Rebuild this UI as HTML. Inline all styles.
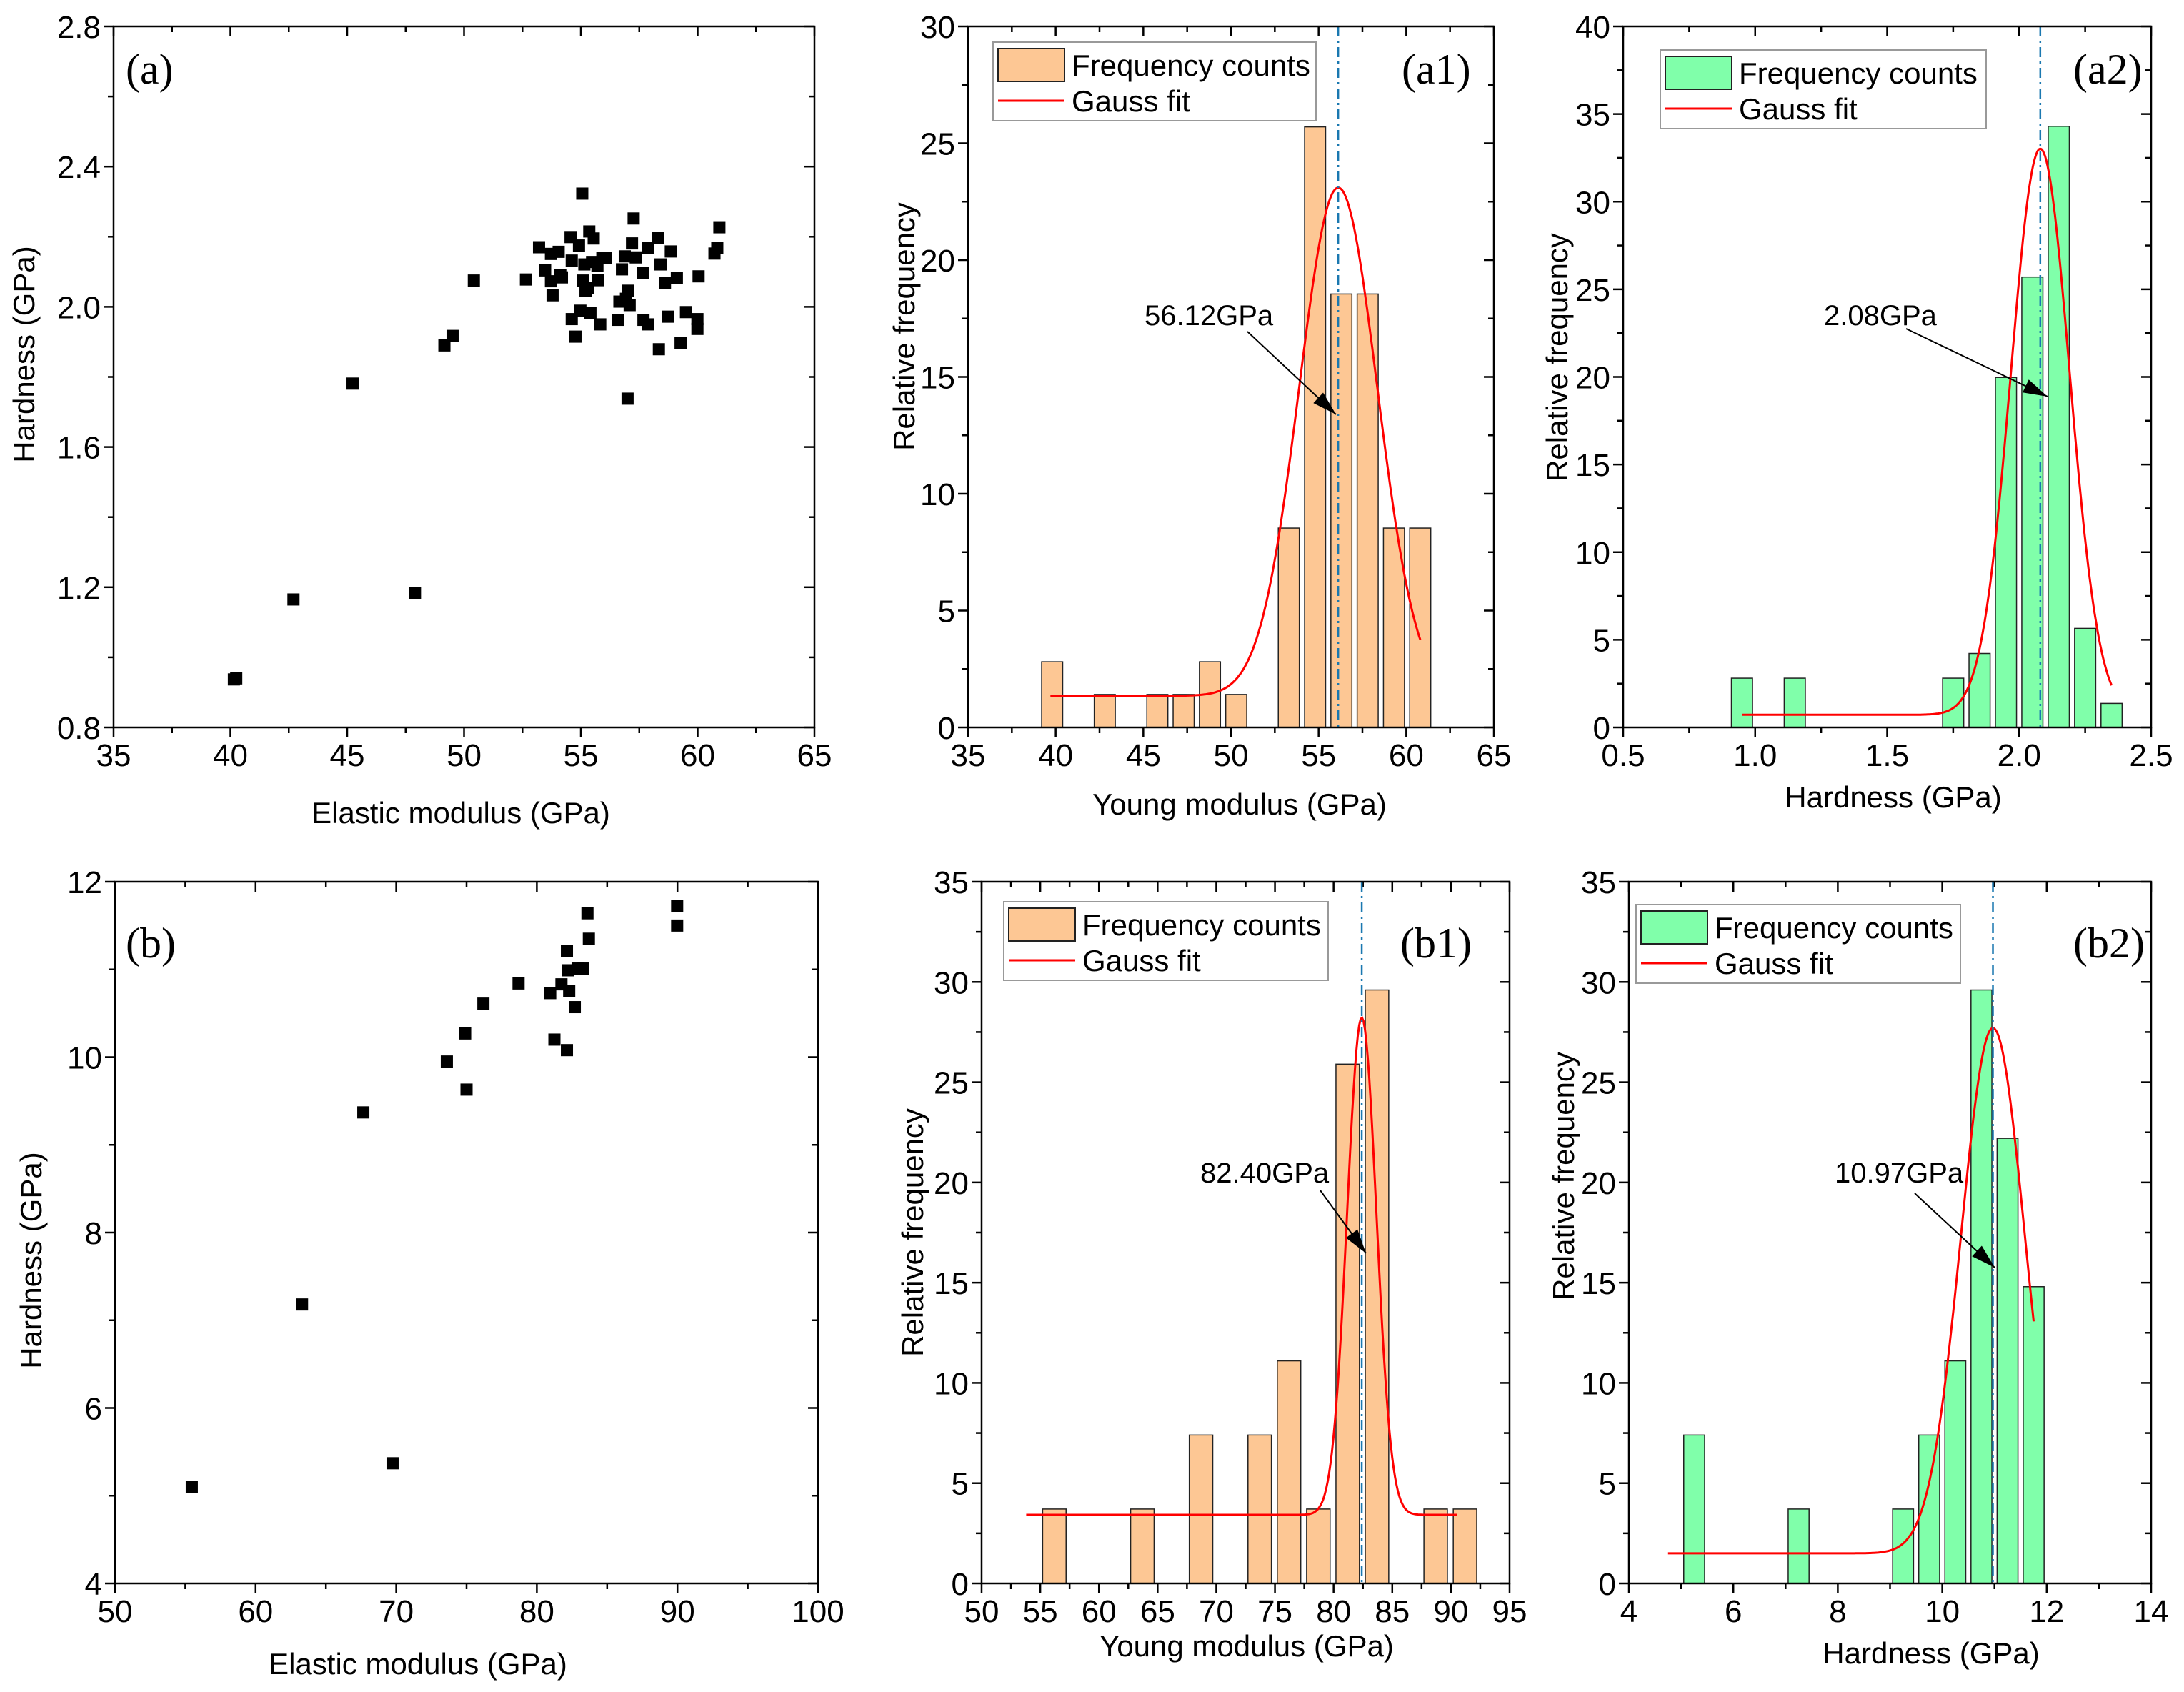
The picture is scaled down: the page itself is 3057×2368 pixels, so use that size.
<!DOCTYPE html>
<html><head><meta charset="utf-8"><style>
html,body{margin:0;padding:0;background:#fff}
svg{display:block}
text{font-family:"Liberation Sans",Arial,sans-serif;fill:#000}
.ser{font-family:"Liberation Serif","Times New Roman",serif}
</style></head><body>
<svg id="fig" width="3057" height="2368" viewBox="0 0 3057 2368" xmlns="http://www.w3.org/2000/svg"></svg>
<script>
// ---------- data ----------
const aE=[40.15,40.25,42.70,45.23,47.9,49.16,49.51,50.42,52.65,53.21,53.47,53.72,53.72,53.79,54.05,54.12,54.19,54.56,54.61,54.61,54.77,54.92,54.98,55.06,55.10,55.15,55.20,55.31,55.36,55.41,55.48,55.55,55.71,55.74,55.83,55.92,56.08,56.60,56.65,56.76,56.88,56.93,57.0,57.02,57.09,57.19,57.26,57.35,57.66,57.68,57.89,57.89,58.29,58.34,58.41,58.60,58.73,58.85,59.11,59.27,59.50,59.99,59.99,60.04,60.72,60.84,60.93];
const aH=[0.937,0.94,1.165,1.781,1.184,1.89,1.917,2.075,2.078,2.170,2.104,2.151,2.073,2.033,2.157,2.090,2.084,2.199,2.132,1.965,1.915,2.175,1.989,2.323,2.075,2.121,2.046,2.054,2.215,1.983,2.128,2.195,2.118,2.076,1.950,2.140,2.139,1.963,2.015,2.107,2.144,2.023,1.738,2.046,2.005,2.181,2.252,2.141,2.096,1.963,1.950,2.168,2.197,1.879,2.121,2.069,1.972,2.158,2.082,1.896,1.985,1.965,1.937,2.087,2.152,2.168,2.227];
const bE=[55.46,63.3,67.66,69.74,73.6,74.9,75.0,76.2,78.7,80.95,81.25,81.75,82.14,82.14,82.3,82.2,82.7,82.9,83.3,83.6,83.7,89.98,89.98];
const bH=[5.10,7.18,9.37,5.37,9.95,10.27,9.63,10.61,10.84,10.73,10.20,10.83,11.21,10.08,10.75,10.99,10.57,11.01,11.01,11.64,11.35,11.72,11.50];
const a1Centers=[39.8,42.8,45.8,47.3,48.8,50.3,53.3,54.8,56.3,57.8,59.3,60.8];
const a1Freq=[2.81,1.41,1.41,1.41,2.81,1.41,8.53,25.7,18.55,18.55,8.53,8.53];
const a1Fit=[1.35,21.75,56.12,2.23]; // y0, A, xc, w
const a1Range=[39.7,60.8];
const a2Centers=[0.95,1.15,1.75,1.85,1.95,2.05,2.15,2.25,2.35];
const a2Freq=[2.81,2.81,2.81,4.22,19.97,25.7,34.3,5.65,1.37];
const a2Fit=[0.72,32.3,2.08,0.111];
const a2Range=[0.95,2.35];
const b1Centers=[56.2,63.7,68.7,73.7,76.2,78.7,81.2,83.7,88.7,91.2];
const b1Freq=[3.71,3.71,7.4,7.4,11.1,3.71,25.9,29.6,3.71,3.71];
const b1Fit=[3.42,24.8,82.4,1.25];
const b1Range=[53.8,90.5];
const b2Centers=[5.25,7.25,9.25,9.75,10.25,10.75,11.25,11.75];
const b2Freq=[7.4,3.71,3.71,7.4,11.1,29.6,22.2,14.8];
const b2Fit=[1.5,26.2,10.97,0.61];
const b2Range=[4.75,11.75];
const a1Peak=["56.12GPa"],a2Peak=["2.08GPa"],b1Peak=["82.40GPa"],b2Peak=["10.97GPa"];

// ---------- helpers ----------
const NS="http://www.w3.org/2000/svg";
const svg=document.getElementById('fig');
function mk(tag,attrs,parent,txt){const e=document.createElementNS(NS,tag);for(const k in attrs)e.setAttribute(k,attrs[k]);if(txt!==undefined)e.textContent=txt;(parent||svg).appendChild(e);return e;}
function fmt(v,d){return v.toFixed(d);}

function panel(cfg){
  const g=mk('g',{});
  
  
  const L=cfg.box[0],T=cfg.box[1],R=cfg.box[2],B=cfg.box[3];
  const sx=v=>L+(v-cfg.x[0])/(cfg.x[1]-cfg.x[0])*(R-L);
  const sy=v=>B-(v-cfg.y[0])/(cfg.y[1]-cfg.y[0])*(B-T);
  cfg.sx=sx;cfg.sy=sy;cfg.g=g;
  const tg=mk('g',{stroke:'#000','stroke-width':2.5},g);
  
  const xl=mk('g',{},g);
  const yl=mk('g',{},g);
  const nx=Math.round((cfg.x[1]-cfg.x[0])/cfg.xs*2);
  for(let i=0;i<=nx;i++){const v=cfg.x[0]+i*cfg.xs/2,X=sx(v),maj=i%2==0,len=maj?14:8;
    mk('line',{x1:X,y1:B,x2:X,y2:B+len},tg);mk('line',{x1:X,y1:T,x2:X,y2:T+len},tg);
    if(maj){mk('text',{x:X,y:B+54,'font-size':44,'text-anchor':'middle'},xl,fmt(v,cfg.xd));}}
  const ny=Math.round((cfg.y[1]-cfg.y[0])/cfg.ys*2);
  for(let i=0;i<=ny;i++){const v=cfg.y[0]+i*cfg.ys/2,Y=sy(v),maj=i%2==0,len=maj?14:8;
    mk('line',{x1:L-len,y1:Y,x2:L,y2:Y},tg);mk('line',{x1:R-len,y1:Y,x2:R,y2:Y},tg);
    if(maj){mk('text',{x:L-18,y:Y+16,'font-size':44,'text-anchor':'end'},yl,fmt(v,cfg.yd));}}
  const xt=mk('text',{x:cfg.xt[0],y:cfg.xt[1],'font-size':42,'text-anchor':'middle'},g,cfg.xtitle);
  
  const yt=mk('text',{x:0,y:0,'font-size':42,'text-anchor':'middle',transform:`translate(${cfg.yt[0]},${cfg.yt[1]}) rotate(-90)`},g,cfg.ytitle);
  
  const pl=mk('text',{x:cfg.lab[0],y:cfg.lab[1],'font-size':60,'class':'ser'},g,cfg.label);
  
  return g;
}
function frame(cfg){const f=mk('rect',{x:cfg.box[0],y:cfg.box[1],width:cfg.box[2]-cfg.box[0],height:cfg.box[3]-cfg.box[1],fill:'none',stroke:'#000','stroke-width':2.5},cfg.g);
  }

function scatter(cfg,xs,ys){
  panel(cfg);
  const pg=mk('g',{fill:'#000'},cfg.g);
  for(let i=0;i<xs.length;i++){const r=mk('rect',{x:cfg.sx(xs[i])-8.5,y:cfg.sy(ys[i])-8.5,width:17,height:17},pg);
    }
  frame(cfg);
}
function hist(cfg,centers,freq,bw,fit,range,color,peak){
  panel(cfg);
  const bg=mk('g',{},cfg.g);
  for(let i=0;i<centers.length;i++){const x0=cfg.sx(centers[i]-bw/2),x1=cfg.sx(centers[i]+bw/2),y=cfg.sy(freq[i]);
    const r=mk('rect',{x:x0,y:y,width:x1-x0,height:cfg.sy(0)-y,fill:color,stroke:'#222','stroke-width':1.5},bg);
    }
  let d='';for(let k=0;k<=300;k++){const x=range[0]+(range[1]-range[0])*k/300;const y=fit[0]+fit[1]*Math.exp(-Math.pow(x-fit[2],2)/(2*fit[3]*fit[3]));
    d+=(k?'L':'M')+cfg.sx(x).toFixed(1)+','+cfg.sy(y).toFixed(1);}
  const p=mk('path',{d:d,fill:'none',stroke:'#f00','stroke-width':3},cfg.g);
  
  const vx=cfg.sx(fit[2]);
  const vl=mk('line',{x1:vx,y1:cfg.box[1],x2:vx,y2:cfg.box[3],stroke:'#1a78b0','stroke-width':2.5,'stroke-dasharray':'14,6,3,6'},cfg.g);
  
  const at=mk('text',{x:cfg.ann[0],y:cfg.ann[1],'font-size':40},cfg.g,peak[0]);
  
  const [ax1,ay1,ax2,ay2]=cfg.arrow;
  const ar=mk('line',{x1:ax1,y1:ay1,x2:ax2,y2:ay2,stroke:'#000','stroke-width':2},cfg.g);
  
  const ang=Math.atan2(ay2-ay1,ax2-ax1),hl=34,hw=10;
  const bx=ax2-hl*Math.cos(ang),by=ay2-hl*Math.sin(ang);
  const ah=mk('polygon',{points:`${ax2},${ay2} ${bx-hw*Math.sin(ang)},${by+hw*Math.cos(ang)} ${bx+hw*Math.sin(ang)},${by-hw*Math.cos(ang)}`,fill:'#000'},cfg.g);
  
  const [lx,ly,lw,lh]=cfg.leg;
  const lg=mk('g',{},cfg.g);
  mk('rect',{x:lx,y:ly,width:lw,height:lh,fill:'#fff',stroke:'#999','stroke-width':2},lg);
  const e1=mk('g',{},lg);
  mk('rect',{x:lx+7,y:ly+9,width:93,height:46,fill:color,stroke:'#222','stroke-width':2},e1);
  mk('text',{x:lx+110,y:ly+47,'font-size':42},e1,'Frequency counts');
  const e2=mk('g',{},lg);
  mk('line',{x1:lx+7,y1:ly+82,x2:lx+100,y2:ly+82,stroke:'#f00','stroke-width':3},e2);
  mk('text',{x:lx+110,y:ly+97,'font-size':42},e2,'Gauss fit');
  frame(cfg);
}

// ---------- panels ----------
scatter({name:'panel-a-scatter',box:[159,37,1140,1018],x:[35,65],xs:5,xd:0,y:[0.8,2.8],ys:0.4,yd:1,
  xtitle:'Elastic modulus (GPa)',ytitle:'Hardness (GPa)',xt:[645,1152],yt:[48,496],label:'(a)',lab:[176,117]},aE,aH);
hist({name:'panel-a1-histogram',box:[1355,37,2091,1018],x:[35,65],xs:5,xd:0,y:[0,30],ys:5,yd:0,
  xtitle:'Young modulus (GPa)',ytitle:'Relative frequency',xt:[1735,1140],yt:[1280,457],label:'(a1)',lab:[1962,117],
  ann:[1602,455],arrow:[1746,464,1870,580],leg:[1390,59,452,110]},a1Centers,a1Freq,1.2,a1Fit,a1Range,'#fdc794',a1Peak);
hist({name:'panel-a2-histogram',box:[2272,37,3011,1018],x:[0.5,2.5],xs:0.5,xd:1,y:[0,40],ys:5,yd:0,
  xtitle:'Hardness (GPa)',ytitle:'Relative frequency',xt:[2650,1130],yt:[2194,500],label:'(a2)',lab:[2902,117],
  ann:[2553,455],arrow:[2668,460,2866,555],leg:[2324,70,456,110]},a2Centers,a2Freq,0.08,a2Fit,a2Range,'#80ffaa',a2Peak);
scatter({name:'panel-b-scatter',box:[161,1234,1145,2216],x:[50,100],xs:10,xd:0,y:[4,12],ys:2,yd:0,
  xtitle:'Elastic modulus (GPa)',ytitle:'Hardness (GPa)',xt:[585,2343],yt:[58,1764],label:'(b)',lab:[176,1340]},bE,bH);
hist({name:'panel-b1-histogram',box:[1374,1234,2113,2216],x:[50,95],xs:5,xd:0,y:[0,35],ys:5,yd:0,
  xtitle:'Young modulus (GPa)',ytitle:'Relative frequency',xt:[1745,2318],yt:[1292,1725],label:'(b1)',lab:[1960,1340],
  ann:[1680,1655],arrow:[1848,1666,1912,1754],leg:[1405,1262,454,110]},b1Centers,b1Freq,2,b1Fit,b1Range,'#fdc794',b1Peak);
hist({name:'panel-b2-histogram',box:[2280,1234,3011,2216],x:[4,14],xs:2,xd:0,y:[0,35],ys:5,yd:0,
  xtitle:'Hardness (GPa)',ytitle:'Relative frequency',xt:[2703,2328],yt:[2203,1646],label:'(b2)',lab:[2902,1340],
  ann:[2568,1655],arrow:[2680,1670,2792,1774],leg:[2290,1266,454,110]},b2Centers,b2Freq,0.4,b2Fit,b2Range,'#80ffaa',b2Peak);
</script>
</body></html>
